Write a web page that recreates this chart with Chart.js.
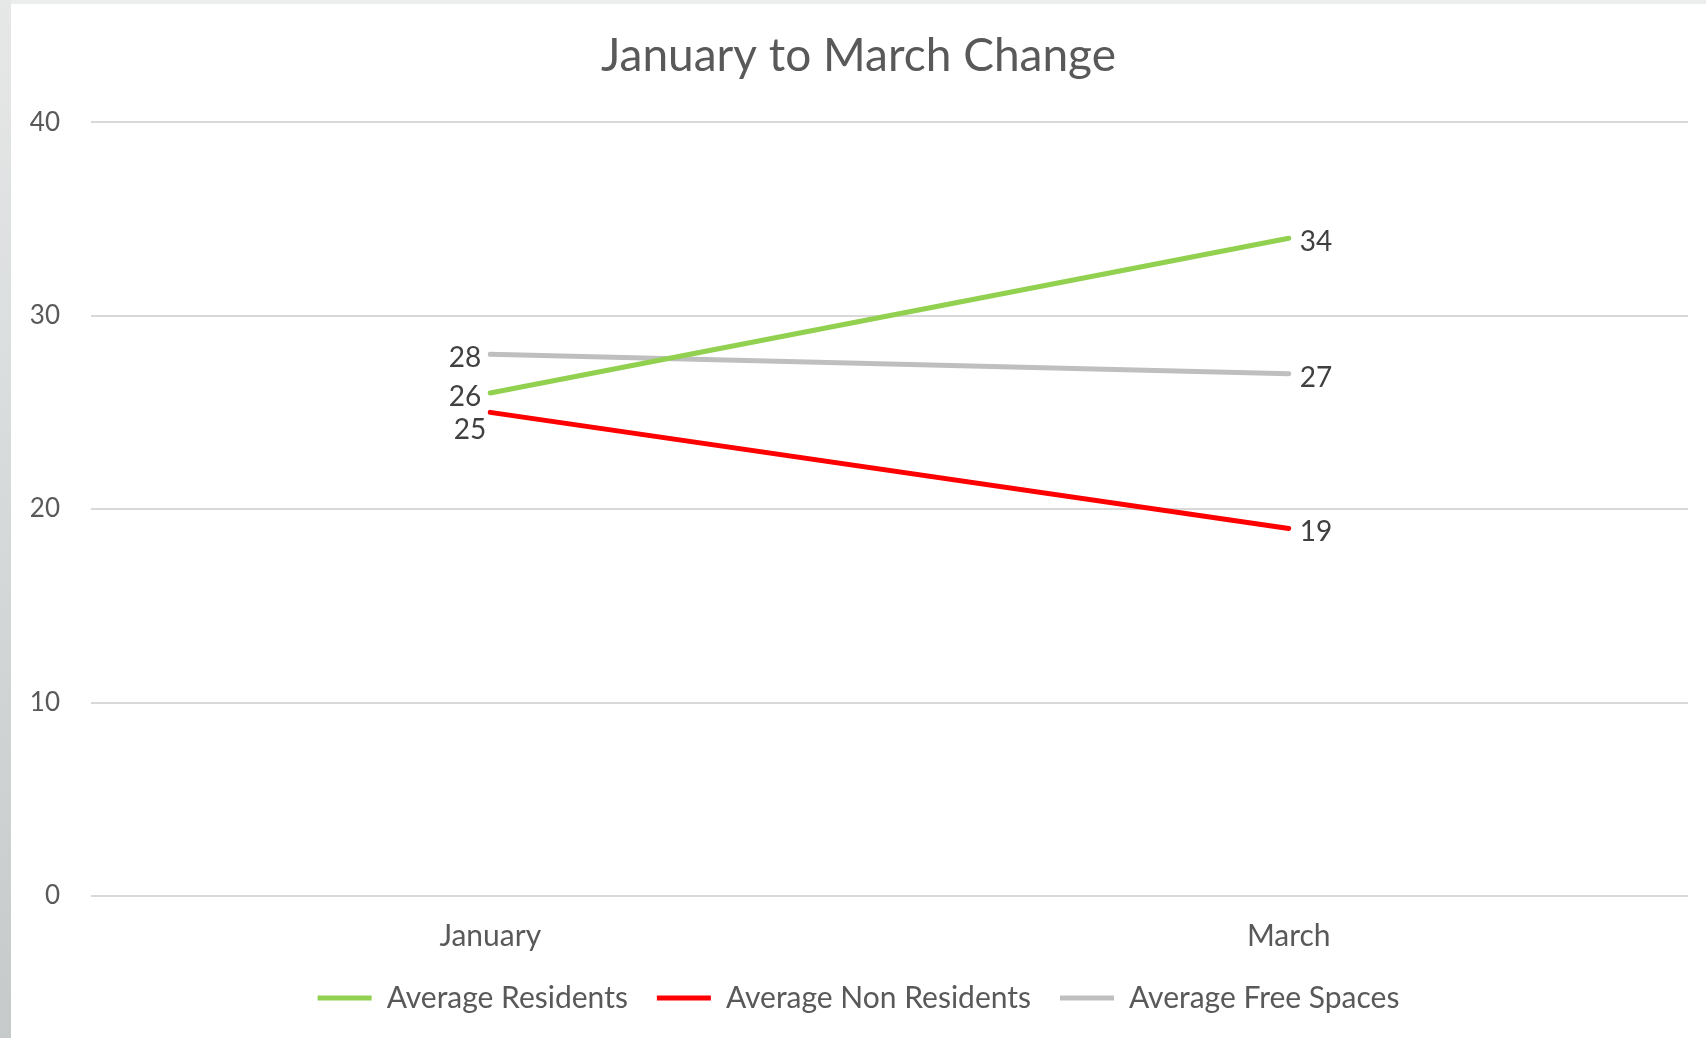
<!DOCTYPE html>
<html>
<head>
<meta charset="utf-8">
<script src="https://cdn.jsdelivr.net/npm/chart.js@4.4.1/dist/chart.umd.min.js"></script>
<style>
    html, body { margin: 0; padding: 0; }
    body {
        width: 1706px; height: 1038px; overflow: hidden;
        background: #eceeee; position: relative;
    }
    .strip {
        position: absolute; left: 0; top: 0; width: 11px; height: 1038px;
        background: linear-gradient(to bottom, #e6e8e8, #c6cacb);
    }
    .wrap {
        position: absolute; left: 11px; top: 4px; width: 1695px; height: 1034px;
        background: #ffffff;
    }
</style>
</head>
<body>
<div class="strip"></div>
<div class="wrap"><canvas id="lineChart" width="1695" height="1034"></canvas></div>
<script>
const categories = ['January', 'March'];
const residents = [26, 34];
const nonResidents = [25, 19];
const freeSpaces = [28, 27];
const yTicks = [0, 10, 20, 30, 40];

const FONT = 'Lato, "Open Sans", sans-serif';

// where each value label sits next to its point
const labelSide = {
    0: ['left', 'right'],
    1: ['below-left', 'right'],
    2: ['left', 'right']
};

const valueLabels = {
    id: 'valueLabels',
    afterDatasetsDraw(chart) {
        const ctx = chart.ctx;
        ctx.save();
        ctx.font = '28px ' + FONT;
        ctx.fillStyle = '#404040';
        ctx.textBaseline = 'middle';
        chart.data.datasets.forEach((ds, i) => {
            const meta = chart.getDatasetMeta(i);
            meta.data.forEach((pt, j) => {
                const side = labelSide[i][j];
                let x = pt.x, y = pt.y + 4;
                if (side === 'left') { ctx.textAlign = 'right'; x -= 9; }
                else if (side === 'right') { ctx.textAlign = 'left'; x += 11; }
                else { ctx.textAlign = 'right'; x -= 4; y += 14; }
                ctx.fillText(ds.data[j], x, y);
            });
        });
        ctx.restore();
    }
};

function makeSet(label, data, color) {
    return {
        label: label,
        data: data,
        borderColor: color,
        backgroundColor: color,
        borderWidth: 5,
        borderCapStyle: 'round',
        pointRadius: 0,
        tension: 0
    };
}

const ctx = document.getElementById('lineChart').getContext('2d');

new Chart(ctx, {
    type: 'line',
    data: {
        labels: categories,
        datasets: [
            makeSet('Average Residents', residents, '#92d050'),
            makeSet('Average Non Residents', nonResidents, '#ff0000'),
            makeSet('Average Free Spaces', freeSpaces, '#bfbfbf')
        ]
    },
    options: {
        responsive: false,
        animation: false,
        layout: { padding: { left: 18, right: 18, top: 0, bottom: 15 } },
        scales: {
            x: {
                offset: true,
                afterFit: scale => { scale.height = 58; },
                grid: { display: false, drawTicks: false },
                border: { display: false },
                ticks: { color: '#595959', font: { family: FONT, size: 30 }, padding: 22 }
            },
            y: {
                min: 0,
                max: 40,
                afterBuildTicks: scale => { scale.ticks = yTicks.map(v => ({ value: v })); },
                afterFit: scale => { scale.width = 62; },
                grid: { color: '#d9d9d9', lineWidth: 2, drawTicks: false },
                border: { display: false },
                ticks: { color: '#595959', font: { family: FONT, size: 26 }, padding: 31 }
            }
        },
        plugins: {
            title: {
                display: true,
                text: 'January to March Change',
                color: '#595959',
                font: { family: FONT, size: 46, weight: 'normal' },
                padding: { top: 25, bottom: 38 }
            },
            legend: {
                position: 'bottom',
                labels: {
                    color: '#595959',
                    font: { family: FONT, size: 30 },
                    boxWidth: 54,
                    boxHeight: 5,
                    padding: 29,
                    generateLabels: chart => chart.data.datasets.map((ds, i) => ({
                        text: ds.label,
                        fillStyle: ds.borderColor,
                        strokeStyle: ds.borderColor,
                        lineWidth: 0,
                        fontColor: '#595959',
                        datasetIndex: i
                    }))
                }
            },
            tooltip: { enabled: false }
        }
    },
    plugins: [valueLabels]
});
</script>
</body>
</html>
